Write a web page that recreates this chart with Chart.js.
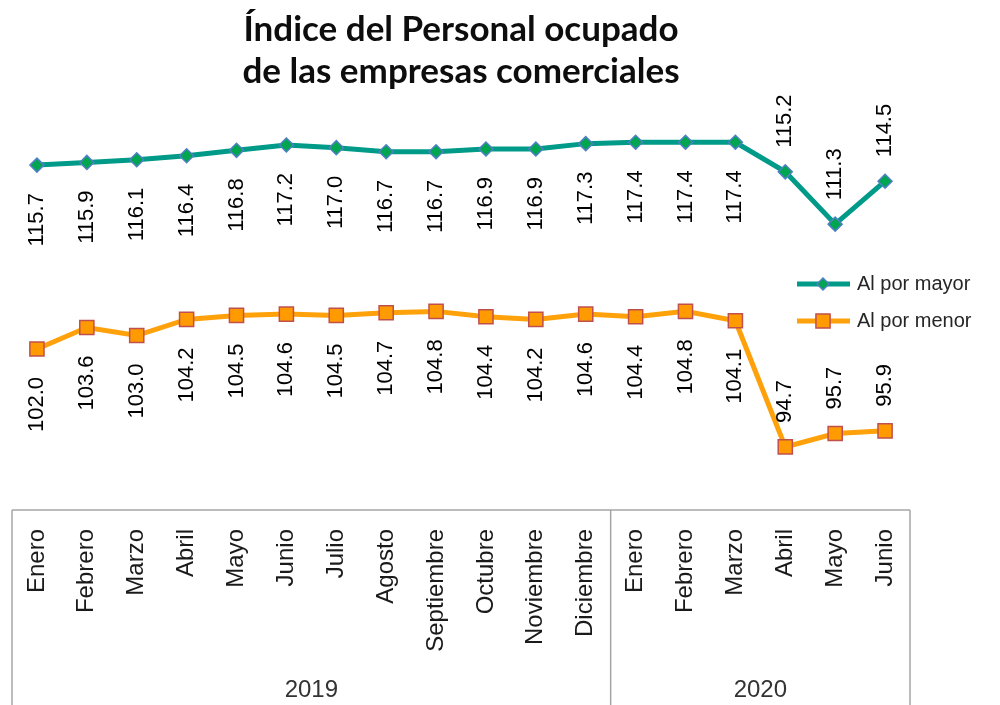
<!DOCTYPE html>
<html>
<head>
    <meta charset="utf-8">
    <title>Índice del Personal ocupado</title>
    <script src="https://cdn.jsdelivr.net/npm/chart.js"></script>
    <style>
        html, body { margin: 0; padding: 0; background: #fff; }
        #wrap { width: 1000px; height: 705px; }
    </style>
</head>
<body>
    <div id="wrap"><canvas id="chart" width="1000" height="705"></canvas></div>

    <script>
        const months = ['Enero', 'Febrero', 'Marzo', 'Abril', 'Mayo', 'Junio', 'Julio', 'Agosto',
            'Septiembre', 'Octubre', 'Noviembre', 'Diciembre',
            'Enero', 'Febrero', 'Marzo', 'Abril', 'Mayo', 'Junio'];
        const years = ['2019', '2020'];
        const monthsPerYear = [12, 6];

        const mayor = [115.7, 115.9, 116.1, 116.4, 116.8, 117.2, 117.0, 116.7, 116.7, 116.9, 116.9, 117.3,
            117.4, 117.4, 117.4, 115.2, 111.3, 114.5];
        const menor = [102.0, 103.6, 103.0, 104.2, 104.5, 104.6, 104.5, 104.7, 104.8, 104.4, 104.2, 104.6,
            104.4, 104.8, 104.1, 94.7, 95.7, 95.9];

        const labelFont = '22px "Liberation Sans", Arial, sans-serif';
        const axisFont = '24px "Liberation Sans", Arial, sans-serif';
        const legendFont = '20px "Liberation Sans", Arial, sans-serif';
        const aboveFrom = 15; // last three months: labels go above the point

        // value labels, rotated like the original
        const valueLabels = {
            id: 'valueLabels',
            afterDatasetsDraw(chart) {
                const ctx = chart.ctx;
                ctx.save();
                ctx.font = labelFont;
                ctx.fillStyle = '#000';
                ctx.textBaseline = 'middle';
                chart.data.datasets.forEach((ds, i) => {
                    const meta = chart.getDatasetMeta(i);
                    meta.data.forEach((pt, j) => {
                        const txt = ds.data[j].toFixed(1);
                        ctx.save();
                        ctx.translate(pt.x, pt.y);
                        ctx.rotate(-Math.PI / 2);
                        if (j >= aboveFrom) {
                            ctx.textAlign = 'left';
                            ctx.fillText(txt, 24, 0);
                        } else {
                            ctx.textAlign = 'right';
                            ctx.fillText(txt, -28, 0);
                        }
                        ctx.restore();
                    });
                });
                ctx.restore();
            }
        };

        // box under the plot with year groups
        const yearBox = {
            id: 'yearBox',
            afterDraw(chart) {
                const ctx = chart.ctx;
                const x = chart.scales.x;
                const area = chart.chartArea;
                const bottom = chart.height;
                const edges = [area.left];
                let idx = 0;
                monthsPerYear.forEach(n => {
                    idx += n;
                    if (idx < months.length) {
                        edges.push((x.getPixelForValue(idx - 1) + x.getPixelForValue(idx)) / 2);
                    } else {
                        edges.push(area.right);
                    }
                });

                ctx.save();
                ctx.strokeStyle = '#a6a6a6';
                ctx.lineWidth = 1.5;
                ctx.beginPath();
                ctx.moveTo(area.left, area.bottom);
                ctx.lineTo(area.right, area.bottom);
                edges.forEach(e => {
                    ctx.moveTo(e, area.bottom);
                    ctx.lineTo(e, bottom);
                });
                ctx.stroke();

                ctx.font = axisFont;
                ctx.fillStyle = '#333';
                ctx.textAlign = 'center';
                ctx.textBaseline = 'middle';
                years.forEach((y, i) => {
                    ctx.fillText(y, (edges[i] + edges[i + 1]) / 2, 690);
                });
                ctx.restore();
            }
        };

        // legend placed over the right side like the original
        const sideLegend = {
            id: 'sideLegend',
            afterDraw(chart) {
                const ctx = chart.ctx;
                chart.data.datasets.forEach((ds, i) => {
                    const y = 284 + i * 37;
                    ctx.save();
                    ctx.strokeStyle = ds.borderColor;
                    ctx.lineWidth = ds.borderWidth;
                    ctx.beginPath();
                    ctx.moveTo(797, y);
                    ctx.lineTo(850, y);
                    ctx.stroke();
                    ctx.fillStyle = ds.pointBackgroundColor;
                    ctx.strokeStyle = ds.pointBorderColor;
                    ctx.lineWidth = ds.pointBorderWidth;
                    Chart.helpers.drawPoint(ctx, {
                        pointStyle: ds.pointStyle,
                        radius: ds.pointStyle === 'rect' ? ds.pointRadius : ds.pointRadius - 1,
                        borderWidth: ds.pointBorderWidth,
                        rotation: 0
                    }, 823, y);
                    ctx.font = legendFont;
                    ctx.fillStyle = '#262626';
                    ctx.textAlign = 'left';
                    ctx.textBaseline = 'middle';
                    ctx.fillText(ds.label, 857, y);
                    ctx.restore();
                });
            }
        };

        const chart = new Chart(document.getElementById('chart'), {
            type: 'line',
            data: {
                labels: months,
                datasets: [{
                    label: 'Al por mayor',
                    data: mayor,
                    borderColor: '#009a88',
                    borderWidth: 5,
                    pointStyle: 'rectRot',
                    pointRadius: 7,
                    pointBackgroundColor: '#00a550',
                    pointBorderColor: '#4f7fc6',
                    pointBorderWidth: 1.5,
                    tension: 0
                }, {
                    label: 'Al por menor',
                    data: menor,
                    borderColor: '#ffa10a',
                    borderWidth: 5,
                    pointStyle: 'rect',
                    pointRadius: 10,
                    pointBackgroundColor: '#ff9a00',
                    pointBorderColor: '#c0504d',
                    pointBorderWidth: 1.5,
                    tension: 0
                }]
            },
            options: {
                responsive: false,
                animation: false,
                layout: { padding: { left: 12, right: 90, top: 0, bottom: 0 } },
                plugins: {
                    legend: { display: false },
                    tooltip: { enabled: false },
                    title: {
                        display: true,
                        text: ['Índice del Personal ocupado', 'de las empresas comerciales'],
                        font: { family: 'Lato, "Open Sans", sans-serif', size: 35, weight: 'bold', lineHeight: 1.22 },
                        color: '#0d0d0d',
                        padding: { top: 8, bottom: 14 }
                    }
                },
                scales: {
                    x: {
                        offset: true,
                        grid: { display: false, drawTicks: false },
                        border: { display: false },
                        ticks: {
                            autoSkip: false,
                            maxRotation: 90,
                            minRotation: 90,
                            padding: 19,
                            color: '#1a1a1a',
                            font: { family: '"Liberation Sans", Arial, sans-serif', size: 24 }
                        },
                        afterFit(scale) { scale.height = 195; }
                    },
                    y: {
                        display: false,
                        min: 90,
                        max: 120
                    }
                }
            },
            plugins: [valueLabels, yearBox, sideLegend]
        });
    </script>
</body>
</html>
